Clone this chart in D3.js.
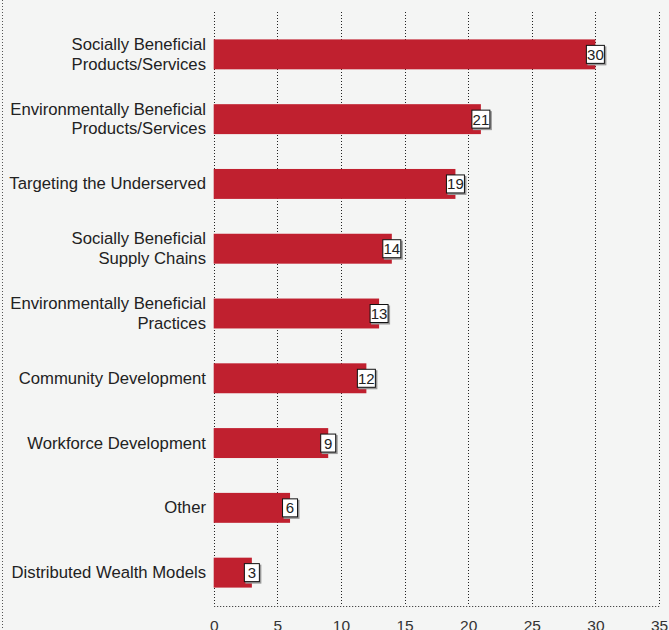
<!DOCTYPE html>
<html>
<head>
<meta charset="utf-8">
<script src="https://cdn.jsdelivr.net/npm/d3@7/dist/d3.min.js"></script>
<style>
  html, body { margin: 0; padding: 0; background: #f4f5f4; }
  svg { display: block; }
  text { font-family: "Liberation Sans", Arial, Helvetica, sans-serif; }
</style>
</head>
<body>
<svg id="chart" width="669" height="630"></svg>
<script>
// Approaches reported, share of respondents (%)
const categories = [
  ["Socially Beneficial", "Products/Services"],
  ["Environmentally Beneficial", "Products/Services"],
  ["Targeting the Underserved"],
  ["Socially Beneficial", "Supply Chains"],
  ["Environmentally Beneficial", "Practices"],
  ["Community Development"],
  ["Workforce Development"],
  ["Other"],
  ["Distributed Wealth Models"]
];
const values = [30, 21, 19, 14, 13, 12, 9, 6, 3];
const tickValues = [0, 5, 10, 15, 20, 25, 30, 35];

const W = 669, H = 630;
const svg = d3.select("#chart");
const keys = categories.map(d => d.join(" "));

const x = d3.scaleLinear().domain([0, 35]).range([213.7, 659]);
const y = d3.scaleBand().domain(keys).range([21, 606]).paddingInner(0.538).paddingOuter(0.284);

const dot = "1,2";
const ink = "#222";

// left frame edge
svg.append("line")
  .attr("x1", 2.5).attr("x2", 2.5).attr("y1", 0).attr("y2", H)
  .attr("stroke", "#555").attr("stroke-dasharray", dot);

// vertical gridlines
svg.append("g").selectAll("line").data(tickValues).join("line")
  .attr("x1", d => Math.round(x(d)) + 0.5).attr("x2", d => Math.round(x(d)) + 0.5)
  .attr("y1", 12).attr("y2", 606)
  .attr("stroke", ink).attr("stroke-dasharray", dot);

// bottom axis
const axis = svg.append("g").attr("transform", "translate(0,606)")
  .call(d3.axisBottom(x).tickValues(tickValues).tickSize(0).tickPadding(14).tickFormat(d3.format("d")));
axis.select(".domain")
  .attr("stroke", ink).attr("stroke-dasharray", dot);
axis.selectAll("text")
  .attr("font-size", 15.5).attr("fill", "#333")
  .attr("font-family", "Liberation Sans, Arial, sans-serif");

// bars
svg.append("g").selectAll("rect").data(values).join("rect")
  .attr("x", x(0))
  .attr("y", (d, i) => y(keys[i]))
  .attr("width", d => x(d) - x(0))
  .attr("height", y.bandwidth())
  .attr("fill", "#c0202f");

// category labels
const lab = svg.append("g").selectAll("text").data(categories).join("text")
  .attr("text-anchor", "end")
  .attr("font-size", 16.7)
  .attr("fill", ink)
  .attr("x", 206)
  .attr("y", (d, i) => y(keys[i]) + y.bandwidth() / 2);
lab.each(function (d) {
  const t = d3.select(this);
  const n = d.length;
  d.forEach((line, j) => {
    t.append("tspan")
      .attr("x", 206)
      .attr("dy", j === 0 ? ((-(n - 1) / 2) * 19.5 + 5.5) : 19.5)
      .text(line);
  });
});

// value boxes
const vb = svg.append("g").selectAll("g").data(values).join("g")
  .attr("transform", (d, i) => `translate(${x(d)},${y(keys[i]) + y.bandwidth() / 2})`);
vb.each(function (d) {
  const g = d3.select(this);
  const w = String(d).length > 1 ? 19 : 16;
  const h = 19;
  g.append("rect")
    .attr("x", -w / 2 + 1.5).attr("y", -h / 2 + 1.5).attr("width", w).attr("height", h)
    .attr("fill", "#999");
  g.append("rect")
    .attr("x", -w / 2 + 0.5).attr("y", -h / 2 + 0.5).attr("width", w - 1).attr("height", h - 1)
    .attr("fill", "#fff").attr("stroke", "#111").attr("stroke-width", 1);
  g.append("text")
    .attr("text-anchor", "middle").attr("y", 5.5)
    .attr("font-size", 15).attr("fill", "#222")
    .text(d);
});
</script>
</body>
</html>
